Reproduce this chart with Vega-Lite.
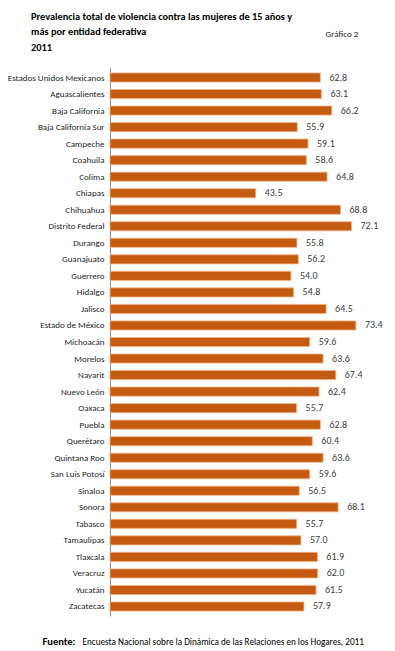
{
  "$schema": "https://vega.github.io/schema/vega-lite/v6.json",
  "width": 268,
  "height": 548,
  "autosize": {"type": "none"},
  "padding": {"left": 110, "top": 68, "right": 17, "bottom": 35},
  "background": "white",
  "config": {
    "view": {"stroke": null},
    "font": "Carlito, 'Liberation Sans Narrow', 'DejaVu Sans Condensed', Lato, sans-serif"
  },
  "title": {
    "text": ["Prevalencia total de violencia contra las mujeres de 15 años y", "más por entidad federativa", "2011"],
    "anchor": "start",
    "frame": "group",
    "dx": -79,
    "dy": 38,
    "offset": 14,
    "fontSize": 10.3,
    "fontWeight": "bold",
    "lineHeight": 15.5,
    "color": "#000000"
  },
  "data": {
    "values": [
      {"entidad": "Estados Unidos Mexicanos", "valor": 62.8},
      {"entidad": "Aguascalientes", "valor": 63.1},
      {"entidad": "Baja California", "valor": 66.2},
      {"entidad": "Baja California Sur", "valor": 55.9},
      {"entidad": "Campeche", "valor": 59.1},
      {"entidad": "Coahuila", "valor": 58.6},
      {"entidad": "Colima", "valor": 64.8},
      {"entidad": "Chiapas", "valor": 43.5},
      {"entidad": "Chihuahua", "valor": 68.8},
      {"entidad": "Distrito Federal", "valor": 72.1},
      {"entidad": "Durango", "valor": 55.8},
      {"entidad": "Guanajuato", "valor": 56.2},
      {"entidad": "Guerrero", "valor": 54.0},
      {"entidad": "Hidalgo", "valor": 54.8},
      {"entidad": "Jalisco", "valor": 64.5},
      {"entidad": "Estado de México", "valor": 73.4},
      {"entidad": "Michoacán", "valor": 59.6},
      {"entidad": "Morelos", "valor": 63.6},
      {"entidad": "Nayarit", "valor": 67.4},
      {"entidad": "Nuevo León", "valor": 62.4},
      {"entidad": "Oaxaca", "valor": 55.7},
      {"entidad": "Puebla", "valor": 62.8},
      {"entidad": "Querétaro", "valor": 60.4},
      {"entidad": "Quintana Roo", "valor": 63.6},
      {"entidad": "San Luis Potosí", "valor": 59.6},
      {"entidad": "Sinaloa", "valor": 56.5},
      {"entidad": "Sonora", "valor": 68.1},
      {"entidad": "Tabasco", "valor": 55.7},
      {"entidad": "Tamaulipas", "valor": 57.0},
      {"entidad": "Tlaxcala", "valor": 61.9},
      {"entidad": "Veracruz", "valor": 62.0},
      {"entidad": "Yucatán", "valor": 61.5},
      {"entidad": "Zacatecas", "valor": 57.9}
    ]
  },
  "encoding": {
    "y": {
      "field": "entidad",
      "type": "nominal",
      "sort": null,
      "scale": {"paddingInner": 0.45, "paddingOuter": 0.3},
      "axis": {
        "title": "Fuente:",
        "titleAngle": 0,
        "titleX": -68,
        "titleY": 573,
        "titleAlign": "left",
        "titleBaseline": "middle",
        "titleFontSize": 10.5,
        "titleFontWeight": "bold",
        "titleColor": "#000000",
        "labelFontSize": 9,
        "labelColor": "#262626",
        "labelPadding": 6,
        "ticks": false,
        "domainColor": "#8c8c8c",
        "labelLimit": 200
      }
    }
  },
  "resolve": {"axis": {"x": "independent"}},
  "layer": [
    {
      "mark": {"type": "bar", "color": "#C55A11", "stroke": "#F4B183", "strokeWidth": 0.8},
      "encoding": {
        "x": {
          "field": "valor",
          "type": "quantitative",
          "scale": {"domain": [0, 80]},
          "axis": {
            "title": "Encuesta Nacional sobre la Dinámica de las Relaciones en los Hogares, 2011",
            "titleX": -28,
            "titleY": 25,
            "titleAlign": "left",
            "titleBaseline": "middle",
            "titleFontSize": 9.2,
            "titleFontWeight": "normal",
            "titleColor": "#000000",
            "labels": false,
            "ticks": false,
            "domain": false,
            "grid": false
          }
        }
      }
    },
    {
      "mark": {"type": "text", "align": "left", "baseline": "middle", "dx": 9, "fontSize": 10, "color": "#404040"},
      "encoding": {
        "x": {
          "field": "valor",
          "type": "quantitative",
          "scale": {"domain": [0, 80]},
          "axis": {
            "orient": "top",
            "title": "Gráfico 2",
            "titleX": 215,
            "titleY": -35,
            "titleAlign": "left",
            "titleBaseline": "middle",
            "titleFontSize": 9,
            "titleFontWeight": "normal",
            "titleColor": "#262626",
            "labels": false,
            "ticks": false,
            "domain": false,
            "grid": false
          }
        },
        "text": {"field": "valor", "type": "quantitative", "format": ".1f"}
      }
    }
  ]
}
